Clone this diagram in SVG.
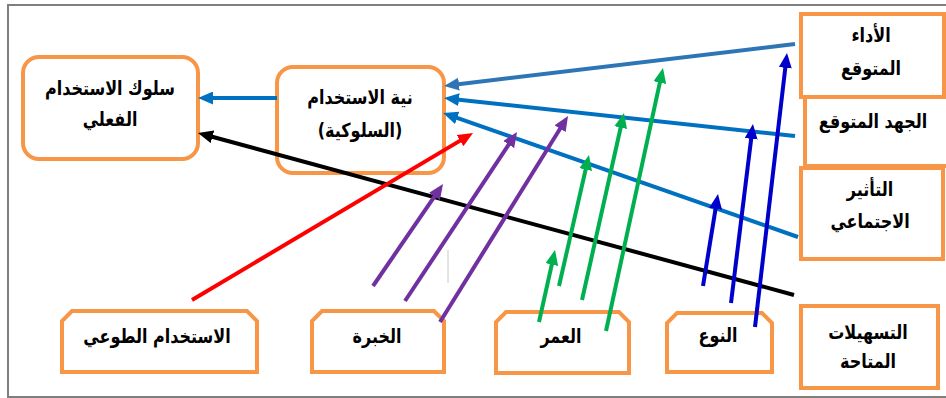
<svg xmlns="http://www.w3.org/2000/svg" width="946" height="398" viewBox="0 0 946 398">
<style>
.box{fill:#fff;stroke:#F79646;stroke-width:4}
.t{font-family:"DejaVu Sans",sans-serif;font-weight:bold;font-size:16px;fill:#000;text-anchor:middle}
.c{fill:none;stroke-width:4;stroke-linecap:butt}
</style>
<defs>
<marker id="mBlue" viewBox="0 0 15 13" markerWidth="15" markerHeight="13" markerUnits="userSpaceOnUse" refX="7" refY="6.5" orient="auto"><path d="M0,0 L15,6.5 L0,13 z" fill="#0070C0"/></marker>
<marker id="mSteel" viewBox="0 0 15 13" markerWidth="15" markerHeight="13" markerUnits="userSpaceOnUse" refX="7" refY="6.5" orient="auto"><path d="M0,0 L15,6.5 L0,13 z" fill="#2E75B6"/></marker>
<marker id="mBlack" viewBox="0 0 15 13" markerWidth="15" markerHeight="13" markerUnits="userSpaceOnUse" refX="7" refY="6.5" orient="auto"><path d="M0,0 L15,6.5 L0,13 z" fill="#000"/></marker>
<marker id="mRed" viewBox="0 0 15 13" markerWidth="15" markerHeight="13" markerUnits="userSpaceOnUse" refX="7" refY="6.5" orient="auto"><path d="M0,0 L15,6.5 L0,13 z" fill="#FF0000"/></marker>
<marker id="mPurple" viewBox="0 0 15 13" markerWidth="15" markerHeight="13" markerUnits="userSpaceOnUse" refX="7" refY="6.5" orient="auto"><path d="M0,0 L15,6.5 L0,13 z" fill="#7030A0"/></marker>
<marker id="mGreen" viewBox="0 0 15 13" markerWidth="15" markerHeight="13" markerUnits="userSpaceOnUse" refX="7" refY="6.5" orient="auto"><path d="M0,0 L15,6.5 L0,13 z" fill="#00B050"/></marker>
<marker id="mDark" viewBox="0 0 15 13" markerWidth="15" markerHeight="13" markerUnits="userSpaceOnUse" refX="7" refY="6.5" orient="auto"><path d="M0,0 L15,6.5 L0,13 z" fill="#0000CC"/></marker>
</defs>
<rect x="0" y="0" width="946" height="398" fill="#fff"/>
<rect x="8" y="5" width="945" height="392" fill="none" stroke="#7F7F7F" stroke-width="2"/>
<line x1="448" y1="250" x2="448" y2="283" stroke="#C8C8C8" stroke-width="1"/>

<g id="node-actual">
<rect class="box" x="23" y="57" width="175" height="102" rx="16"/>
<text class="t" transform="translate(110,95) scale(1,1.22)" direction="rtl" font-size="17">سلوك الاستخدام</text>
<text class="t" transform="translate(110,126) scale(1,1.22)" direction="rtl" font-size="17">الفعلي</text>
</g>
<g id="node-intention">
<rect class="box" x="277" y="67" width="167" height="106" rx="16"/>
<text class="t" transform="translate(360,104) scale(1,1.22)" direction="rtl" font-size="17">نية الاستخدام</text>
<text class="t" transform="translate(360,137) scale(1,1.22)" direction="rtl" font-size="17">(السلوكية)</text>
</g>
<g id="node-performance">
<rect class="box" x="801" y="14" width="143" height="83"/>
<text class="t" transform="translate(871,42) scale(1,1.22)" direction="rtl">الأداء</text>
<text class="t" transform="translate(871,75) scale(1,1.22)" direction="rtl">المتوقع</text>
</g>
<g id="node-effort">
<rect class="box" x="805" y="97" width="150" height="69"/>
<text class="t" transform="translate(873,128) scale(1,1.22)" direction="rtl">الجهد المتوقع</text>
</g>
<g id="node-social">
<rect class="box" x="801" y="168" width="142" height="91"/>
<text class="t" transform="translate(870,196) scale(1,1.22)" direction="rtl">التأثير</text>
<text class="t" transform="translate(870,228) scale(1,1.22)" direction="rtl">الاجتماعي</text>
</g>
<g id="node-facilities">
<rect class="box" x="801" y="306" width="137" height="82"/>
<text class="t" transform="translate(868,339) scale(1,1.22)" direction="rtl">التسهيلات</text>
<text class="t" transform="translate(868,368) scale(1,1.22)" direction="rtl">المتاحة</text>
</g>
<g id="node-voluntary">
<path class="box" d="M72,311 L247,311 L257,321 L257,372 L62,372 L62,321 Z"/>
<text class="t" transform="translate(157,343) scale(1,1.22)" direction="rtl">الاستخدام الطوعي</text>
</g>
<g id="node-experience">
<path class="box" d="M322,311 L434,311 L444,321 L444,372 L312,372 L312,321 Z"/>
<text class="t" transform="translate(377,343) scale(1,1.22)" direction="rtl">الخبرة</text>
</g>
<g id="node-age">
<path class="box" d="M506,312 L619,312 L629,322 L629,373 L496,373 L496,322 Z"/>
<text class="t" transform="translate(561,343) scale(1,1.22)" direction="rtl">العمر</text>
</g>
<g id="node-gender">
<path class="box" d="M677,313 L762,313 L772,323 L772,372 L667,372 L667,323 Z"/>
<text class="t" transform="translate(718,342) scale(1,1.22)" direction="rtl">النوع</text>
</g>

<g id="connectors">
<line class="c" x1="277" y1="98" x2="206" y2="98" stroke="#0070C0" marker-end="url(#mBlue)"/>
<line class="c" x1="794" y1="295" x2="205.7" y2="135" stroke="#000" stroke-width="5" marker-end="url(#mBlack)"/>
<line class="c" x1="795" y1="44" x2="452" y2="85" stroke="#2E75B6" stroke-width="5" marker-end="url(#mSteel)"/>
<line class="c" x1="795" y1="136" x2="452" y2="98.9" stroke="#0070C0" marker-end="url(#mBlue)"/>
<line class="c" x1="798" y1="237" x2="450.6" y2="115.6" stroke="#0070C0" marker-end="url(#mBlue)"/>
<line class="c" x1="192" y1="300" x2="466.1" y2="137.1" stroke="#FF0000" stroke-width="5" marker-end="url(#mRed)"/>
<line class="c" x1="373" y1="286" x2="438.5" y2="190.6" stroke="#7030A0" marker-end="url(#mPurple)"/>
<line class="c" x1="405" y1="301" x2="512.6" y2="138.7" stroke="#7030A0" marker-end="url(#mPurple)"/>
<line class="c" x1="440" y1="322" x2="563.8" y2="122.8" stroke="#7030A0" marker-end="url(#mPurple)"/>
<line class="c" x1="539" y1="322" x2="553.3" y2="257.8" stroke="#00B050" marker-end="url(#mGreen)"/>
<line class="c" x1="559" y1="286" x2="587.2" y2="162.8" stroke="#00B050" marker-end="url(#mGreen)"/>
<line class="c" x1="582" y1="300" x2="622.2" y2="120.8" stroke="#00B050" marker-end="url(#mGreen)"/>
<line class="c" x1="606" y1="331" x2="661.3" y2="75.8" stroke="#00B050" marker-end="url(#mGreen)"/>
<line class="c" x1="703" y1="286" x2="716.7" y2="201.9" stroke="#0000CC" marker-end="url(#mDark)"/>
<line class="c" x1="731" y1="303" x2="752" y2="131.9" stroke="#0000CC" marker-end="url(#mDark)"/>
<line class="c" x1="755" y1="327" x2="786.1" y2="60.9" stroke="#0000CC" marker-end="url(#mDark)"/>
</g>
</svg>
